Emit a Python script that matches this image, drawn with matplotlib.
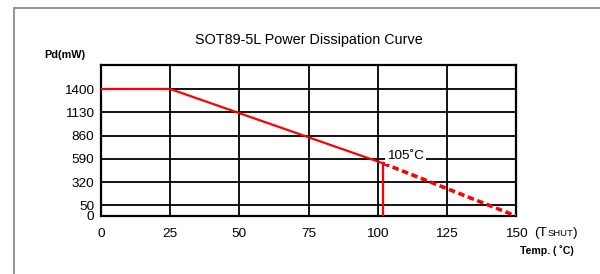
import matplotlib
matplotlib.use("Agg")
import matplotlib.pyplot as plt
import numpy as np
from matplotlib.patches import Rectangle

plt.rcParams['font.family'] = ['Liberation Sans', 'DejaVu Sans']

# data
temp_solid = [0, 25, 102]
pd_solid = [1400, 1400, 537]
temp_dash = [102, 150]
pd_dash = [537, 0]
x_ticks = [0, 25, 50, 75, 100, 125, 150]
y_ticks = [0, 50, 320, 590, 860, 1130, 1400]
title = "SOT89-5L Power Dissipation Curve"
label_temp = "105˚C"

W, H = 600, 274
fig = plt.figure(figsize=(6, 2.74), dpi=100)

# outer frame
fig.patches.append(Rectangle((14 / W, -0.1), 1.2, (H - 8) / H + 0.1, transform=fig.transFigure,
                             fill=False, edgecolor='#808080', linewidth=1.2))

ax = fig.add_axes([101 / W, 58 / H, 415 / W, 151 / H])

# axis as drawn in the original: 0..50 stretched, linear above 50
_v = [0, 50, 1400, 1678]
_p = [0, 10.7, 127, 151]
def fwd(v):
    return np.interp(v, _v, _p)
def inv(p):
    return np.interp(p, _p, _v)
ax.set_yscale('function', functions=(fwd, inv))

ax.set_xlim(0, 150)
ax.set_ylim(0, 1678)
ax.set_xticks(x_ticks)
ax.set_yticks(y_ticks)
ax.set_xticklabels([str(v) for v in x_ticks], fontsize=9.7)
ax.set_yticklabels([str(v) for v in y_ticks], fontsize=9.7)
ax.yaxis.set_minor_locator(matplotlib.ticker.NullLocator())
ax.tick_params(axis='x', length=0, pad=8.5)
ax.tick_params(axis='y', length=0, pad=5)
for s in ax.spines.values():
    s.set_linewidth(1.6)
    s.set_color('black')

for v in y_ticks[1:]:
    ax.axhline(v, color='black', lw=1.3, zorder=1)
for v in x_ticks[1:-1]:
    ax.axvline(v, color='black', lw=1.3, zorder=1)

ax.plot(temp_solid, pd_solid, color='#ff0000', lw=1.6, zorder=3, solid_capstyle='butt')
ax.plot(temp_dash, pd_dash, color='#ff0000', lw=2.6, ls=(0, (1.8, 1)), zorder=3)
ax.plot([temp_dash[0], temp_dash[0]], [0, pd_dash[0]], color='#ff0000', lw=1.6, zorder=3)

ax.text(103.5, 625, label_temp, fontsize=9.7, ha='left', va='center', zorder=4,
        bbox=dict(facecolor='white', edgecolor='none', pad=1.5))

fig.text(308.5 / W, 1 - 40 / H, title, fontsize=10.4, ha='center', va='center')
fig.text(44 / W, 1 - 55 / H, "Pd(mW)", fontsize=7.8, fontweight='bold', ha='left', va='center')
fig.text(574 / W, 1 - 251 / H, "Temp. ( ˚C)", fontsize=7.6, fontweight='bold', ha='right', va='center')

# (TSHUT) after the 150 tick label
fig.text(534 / W, 1 - 233 / H, "(T", fontsize=9.7, ha='left', va='center')
fig.text(548 / W, 1 - 234 / H, "SHUT", fontsize=6.8, ha='left', va='center')
fig.text(573 / W, 1 - 233 / H, ")", fontsize=9.7, ha='left', va='center')

fig.savefig("out.png", dpi=100)
